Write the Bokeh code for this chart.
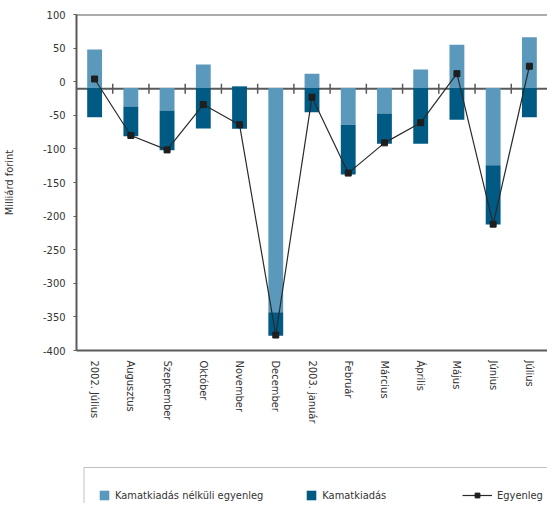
from bokeh.plotting import figure
from bokeh.layouts import column
from bokeh.models import (Range1d, FactorRange, Span, Legend, LegendItem, BoxAnnotation,
                          SingleIntervalTicker, ColumnDataSource)
from bokeh.transform import dodge
from bokeh.embed import file_html
from bokeh.resources import INLINE
import math

# ---- data (Milliárd forint) ----
months = ["2002.  Július", "Augusztus", "Szeptember", "Október", "November",
          "December", "2003. január", "Február", "Március", "Április",
          "Május", "Június", "Július"]
primary = [48, -37, -43, 25.5, -7, -343, 12, -64, -47.5, 18, 55, -124.5, 66]      # Kamatkiadás nélküli egyenleg
interest = [-43.5, -44, -59, -60, -63, -35, -36, -74, -45, -82.7, -47, -88, -43.5]  # Kamatkiadás
balance = [4, -80, -101.5, -34, -64, -377, -23, -136, -91, -61, 12, -212, 23]       # Egyenleg
y_ticks = [-400, -350, -300, -250, -200, -150, -100, -50, 0, 50, 100]
legend_labels = ["Kamatkiadás nélküli egyenleg", "Kamatkiadás", "Egyenleg"]

AXIS_CROSS = -9.5   # where the category axis crosses the value axis

FONT = "'Liberation Sans Narrow', 'DejaVu Sans Condensed', sans-serif"
FS = "11px"
LIGHT = "#5a99bb"
DARK = "#005a84"
GREY = "#5a5a5a"
TXT = "#333333"
LINE = "#2a2a2a"
MARK = "#1e1e1e"

W, H1, H2, LEFT = 547, 439, 64, 75

light_bottom = [AXIS_CROSS] * len(months)
dark_bottom = [p if p < 0 else AXIS_CROSS for p in primary]
dark_top = [b + i for b, i in zip(dark_bottom, interest)]

src = ColumnDataSource(dict(m=months, lb=light_bottom, lt=primary,
                            db=dark_bottom, dt=dark_top, bal=balance))
sep = ColumnDataSource(dict(m=months[:-1], y=[AXIS_CROSS - 1] * (len(months) - 1)))

p = figure(width=W, height=H1, x_range=FactorRange(*months, range_padding=0),
           y_range=Range1d(-400, 100), output_backend="svg", toolbar_location=None,
           min_border_left=LEFT, min_border_right=0, min_border_top=14, min_border_bottom=89)
p.outline_line_color = None
p.background_fill_color = "white"
p.border_fill_color = "white"
p.xgrid.visible = False
p.ygrid.visible = False

# frame top line and category axis line
p.add_layout(Span(location=100, dimension="width", line_color=GREY, line_width=2))
p.add_layout(Span(location=AXIS_CROSS - 1, dimension="width", line_color=GREY,
                  line_width=2, level="underlay"))

p.vbar(x="m", bottom="lb", top="lt", width=0.41, source=src,
       fill_color=LIGHT, line_color=None)
p.vbar(x="m", bottom="db", top="dt", width=0.41, source=src,
       fill_color=DARK, line_color=None)

# category separators on the crossing axis
p.scatter(x=dodge("m", 0.5, range=p.x_range), y="y", source=sep, marker="dash",
          angle=math.pi / 2, size=10, line_color=GREY, line_width=1.5)

p.line(x="m", y="bal", source=src, line_color=LINE, line_width=1.2)
p.scatter(x="m", y="bal", source=src, marker="square", size=6,
          fill_color=MARK, line_color=MARK)

# y axis
yax = p.yaxis[0]
yax.ticker = SingleIntervalTicker(interval=50)
yax.major_label_overrides = {v: str(v) for v in y_ticks}
yax.axis_label = "Milliárd forint"
yax.axis_label_text_font = FONT
yax.axis_label_text_font_size = FS
yax.axis_label_text_font_style = "normal"
yax.axis_label_text_color = TXT
yax.axis_label_standoff = 24
yax.major_label_text_font = FONT
yax.major_label_text_font_size = FS
yax.major_label_text_color = TXT
yax.major_label_standoff = 8
yax.major_tick_out = 3
yax.major_tick_in = 0
yax.minor_tick_out = 0
yax.minor_tick_in = 0
yax.axis_line_color = GREY
yax.axis_line_width = 2
yax.major_tick_line_color = GREY

# x axis (bottom)
xax = p.xaxis[0]
xax.major_label_orientation = "vertical"
xax.major_label_text_font = FONT
xax.major_label_text_font_size = FS
xax.major_label_text_color = TXT
xax.major_label_standoff = 10
xax.major_tick_out = 0
xax.major_tick_in = 0
xax.axis_line_color = GREY
xax.axis_line_width = 2

# ---- legend strip (pixel-like data units) ----
FW = W - LEFT
q = figure(width=W, height=H2, x_range=Range1d(0, FW), y_range=Range1d(0, H2),
           output_backend="svg", toolbar_location=None, min_border_left=LEFT,
           min_border_right=0, min_border_top=0, min_border_bottom=0,
           x_axis_location=None, y_axis_location=None)
q.outline_line_color = None
q.xgrid.visible = False
q.ygrid.visible = False
q.background_fill_color = "white"
q.border_fill_color = "white"

q.add_layout(BoxAnnotation(left=7.5, right=FW + 40, top=H2 - 28, bottom=-30,
                           fill_color="white", fill_alpha=1,
                           line_color="#333333", line_width=1, level="underlay"))

# off-screen proxies used only for legend glyphs
l1 = q.vbar(x=[-100], top=[-100], bottom=[-101], width=1, fill_color=LIGHT, line_color=None)
l2 = q.vbar(x=[-100], top=[-100], bottom=[-101], width=1, fill_color=DARK, line_color=None)
l3 = q.line(x=[-100, -90], y=[-100, -100], line_color=LINE, line_width=1.2)
l4 = q.scatter(x=[-100], y=[-100], marker="square", fill_color=MARK, line_color=MARK)

common = dict(orientation="horizontal", glyph_height=12, label_height=14,
              label_standoff=5, padding=0, margin=0, border_line_color=None,
              background_fill_alpha=0, label_text_font=FONT,
              label_text_font_size=FS, label_text_color=TXT)
leg_a = Legend(items=[LegendItem(label=legend_labels[0], renderers=[l1]),
                      LegendItem(label=legend_labels[1], renderers=[l2])],
               location=(22, 1), glyph_width=12, spacing=42, **common)
leg_b = Legend(items=[LegendItem(label=legend_labels[2], renderers=[l3, l4])],
               location=(386, 1), glyph_width=30, spacing=0, **common)
q.add_layout(leg_a, "center")
q.add_layout(leg_b, "center")

open("out.html", "w").write(file_html(column(p, q, spacing=0), INLINE))
